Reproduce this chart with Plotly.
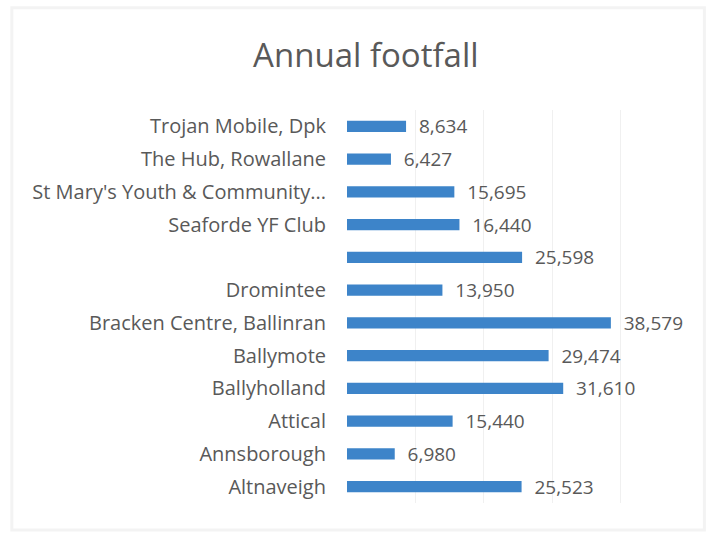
import plotly.graph_objects as go

# Venues listed bottom-to-top as they appear on the y axis
venues = [
    "Altnaveigh",
    "Annsborough",
    "Attical",
    "Ballyholland",
    "Ballymote",
    "Bracken Centre, Ballinran",
    "Dromintee",
    " ",
    "Seaforde YF Club",
    "St Mary's Youth & Community...",
    "The Hub, Rowallane",
    "Trojan Mobile, Dpk",
]
footfall = [25523, 6980, 15440, 31610, 29474, 38579, 13950, 25598, 16440, 15695, 6427, 8634]

TEXT = "#595959"
FONT = "Open Sans"

fig = go.Figure(
    go.Bar(
        x=footfall,
        y=venues,
        orientation="h",
        marker=dict(color="#3d84c9", line=dict(width=0)),
        texttemplate="  %{x:,}",
        textposition="outside",
        constraintext="none",
        cliponaxis=False,
        textfont=dict(family=FONT, size=19, color=TEXT),
    )
)

fig.update_layout(
    width=709,
    height=536,
    paper_bgcolor="white",
    plot_bgcolor="white",
    margin=dict(l=347, r=20, t=110, b=33),
    bargap=0.66,
    showlegend=False,
    title=dict(
        text="Annual footfall",
        x=0.516,
        xanchor="center",
        y=0.897,
        yanchor="middle",
        font=dict(family=FONT, size=33, color=TEXT),
    ),
    xaxis=dict(
        range=[0, 50000],
        dtick=10000,
        showticklabels=False,
        showgrid=True,
        gridcolor="#f0f0f0",
        zeroline=False,
        showline=False,
    ),
    yaxis=dict(
        type="category",
        categoryorder="array",
        categoryarray=venues,
        range=[-0.5, len(venues) - 0.5],
        tickfont=dict(family=FONT, size=20, color=TEXT),
        ticklabelstandoff=20,
        showgrid=False,
        showline=False,
        zeroline=False,
    ),
    # faint chart-area frame
    shapes=[
        dict(
            type="rect",
            xref="paper",
            yref="paper",
            x0=-0.98,
            x1=1.045,
            y0=-0.069,
            y1=1.26,
            line=dict(color="#f3f3f3", width=3),
            layer="below",
        )
    ],
)

fig.write_html("out.html")
